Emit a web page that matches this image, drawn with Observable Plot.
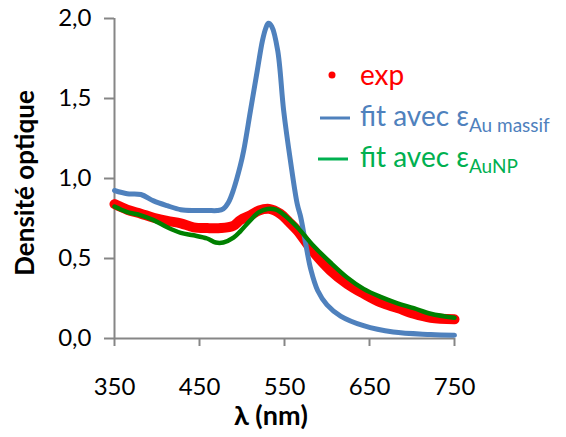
<!DOCTYPE html>
<html><head><meta charset="utf-8">
<script src="https://cdn.jsdelivr.net/npm/d3@7"></script>
<script src="https://cdn.jsdelivr.net/npm/@observablehq/plot@0.6"></script>
<style>body{margin:0;background:#fff;} #chart{width:566px;height:437px;}</style>
</head><body><div id="chart"></div>
<script>
const xTicks = [350, 450, 550, 650, 750];
const yTicks = [0, 0.5, 1.0, 1.5, 2.0];

const nmExp = [350,365,381,396,412,428,443,459,475,490,498,510,520,532,545,555,565,584,604,624,643,663,683,702,722,750];
const odExp = [0.84,0.805,0.78,0.755,0.735,0.72,0.695,0.69,0.69,0.705,0.74,0.77,0.80,0.81,0.78,0.73,0.675,0.54,0.425,0.34,0.28,0.225,0.19,0.155,0.13,0.12];

const nmMassif = [350,365,381,396,412,428,445,460,471,478,484,490,498,502,510,518,524,528,531,535,542,549,557,565,569,575,581,589,600,616,643,678,722,750];
const odMassif = [0.925,0.905,0.90,0.86,0.83,0.805,0.80,0.80,0.80,0.81,0.85,0.93,1.08,1.175,1.425,1.675,1.86,1.94,1.97,1.95,1.80,1.425,1.11,0.84,0.76,0.59,0.43,0.30,0.21,0.14,0.08,0.04,0.025,0.02];

const nmNP = [350,365,381,396,412,428,443,459,469,478,490,498,510,520,530,540,550,565,584,604,624,643,663,683,702,722,750];
const odNP = [0.825,0.79,0.77,0.74,0.695,0.66,0.645,0.625,0.60,0.60,0.63,0.67,0.74,0.79,0.81,0.805,0.77,0.695,0.58,0.475,0.38,0.31,0.26,0.22,0.19,0.155,0.13];

const toRows = (xs, ys) => xs.map((x, i) => ({x, y: ys[i]}));
const exp = toRows(nmExp, odExp);
const massif = toRows(nmMassif, odMassif);
const np = toRows(nmNP, odNP);

const axisGray = "#868686";
const font = "Lato, 'Open Sans', sans-serif";

const plot = Plot.plot({
  width: 566, height: 437,
  marginLeft: 114, marginRight: 112, marginTop: 18, marginBottom: 99,
  style: {fontFamily: font, background: "#fff", overflow: "visible"},
  x: {domain: [350, 750]},
  y: {domain: [0, 2]},
  marks: [
    Plot.axisX({ticks: xTicks, tickSize: 8, tickPadding: 31, fontSize: 24, tickFormat: d => String(d),
      stroke: axisGray, strokeWidth: 2, fill: "#000", label: null}),
    Plot.axisY({ticks: yTicks, tickSize: 10, tickPadding: 13, fontSize: 24,
      tickFormat: d => d.toFixed(1).replace(".", ","),
      stroke: axisGray, strokeWidth: 2, fill: "#000", label: null}),
    Plot.ruleY([0], {stroke: axisGray, strokeWidth: 2}),
    Plot.ruleX([350], {stroke: axisGray, strokeWidth: 2}),
    Plot.line(exp, {x: "x", y: "y", stroke: "#ff0000", strokeWidth: 10, curve: "catmull-rom", strokeLinecap: "round"}),
    Plot.line(massif, {x: "x", y: "y", stroke: "#4f81bd", strokeWidth: 5, curve: "catmull-rom"}),
    Plot.line(np, {x: "x", y: "y", stroke: "#008000", strokeWidth: 4.5, curve: "catmull-rom"})
  ]
});
document.getElementById("chart").appendChild(plot);

const svg = d3.select(plot);
// axis titles
svg.append("text").attr("transform", "translate(34,183) rotate(-90)")
  .attr("text-anchor", "middle").attr("font-family", font).attr("font-weight", "bold")
  .attr("font-size", 26).attr("fill", "#000").text("Densité optique");
svg.append("text").attr("x", 271).attr("y", 425)
  .attr("text-anchor", "middle").attr("font-family", font).attr("font-weight", "bold")
  .attr("font-size", 27).attr("fill", "#000").text("λ (nm)");

// legend
const lg = svg.append("g").attr("font-family", font).attr("text-anchor", "start");
lg.append("circle").attr("cx", 332).attr("cy", 75).attr("r", 3.5).attr("fill", "#ff0000");
lg.append("text").attr("x", 360).attr("y", 85).attr("font-size", 28).attr("fill", "#ff0000").text("exp");
lg.append("line").attr("x1", 320).attr("x2", 350).attr("y1", 118).attr("y2", 118).attr("stroke", "#4f81bd").attr("stroke-width", 3);
const t1 = lg.append("text").attr("x", 360).attr("y", 126).attr("font-size", 28).attr("fill", "#4f81bd");
t1.append("tspan").text("fit avec ε");
t1.append("tspan").attr("font-size", 19).attr("dy", 6).text("Au massif");
lg.append("line").attr("x1", 318).attr("x2", 348).attr("y1", 159).attr("y2", 159).attr("stroke", "#00b050").attr("stroke-width", 3);
const t2 = lg.append("text").attr("x", 360).attr("y", 167).attr("font-size", 28).attr("fill", "#00b050");
t2.append("tspan").text("fit avec ε");
t2.append("tspan").attr("font-size", 19).attr("dy", 6).text("AuNP");
</script>
</body></html>
